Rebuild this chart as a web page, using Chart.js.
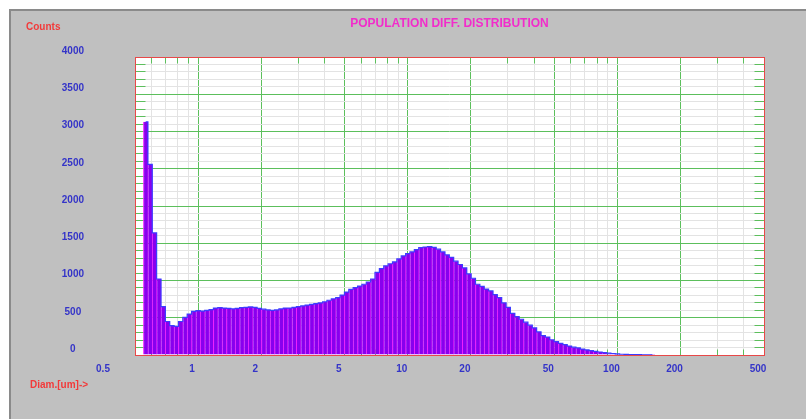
<!DOCTYPE html>
<html>
<head>
<meta charset="utf-8">
<script src="https://cdn.jsdelivr.net/npm/chart.js@4.4.1/dist/chart.umd.min.js"></script>
<style>
  html, body { margin: 0; padding: 0; background: #fff; width: 806px; height: 419px; overflow: hidden; }
  #panel { position: absolute; left: 9px; top: 9px; width: 810px; height: 420px; background: #c0c0c0;
           border-top: 2px solid #8a8a8a; border-left: 2px solid #8a8a8a; }
  #c { position: absolute; left: 0; top: 0; }
</style>
</head>
<body>
<div id="panel"></div>
<canvas id="c" width="806" height="419"></canvas>
<script>
// Particle size histogram: log-spaced channels (48 per decade), counts per channel.
const diameters = [
  0.5623, 0.5900, 0.6190, 0.6494, 0.6813, 0.7148, 0.7499, 0.7867, 0.8254, 0.8660, 0.9085, 0.9532,
  1.000, 1.049, 1.101, 1.155, 1.212, 1.271, 1.334, 1.399, 1.468, 1.540, 1.616, 1.695,
  1.778, 1.866, 1.957, 2.054, 2.154, 2.260, 2.371, 2.488, 2.610, 2.738, 2.873, 3.014,
  3.162, 3.318, 3.481, 3.652, 3.831, 4.019, 4.217, 4.424, 4.642, 4.870, 5.109, 5.360,
  5.623, 5.900, 6.190, 6.494, 6.813, 7.148, 7.499, 7.867, 8.254, 8.660, 9.085, 9.532,
  10.00, 10.49, 11.01, 11.55, 12.12, 12.71, 13.34, 13.99, 14.68, 15.40, 16.16, 16.95,
  17.78, 18.66, 19.57, 20.54, 21.54, 22.60, 23.71, 24.88, 26.10, 27.38, 28.73, 30.14,
  31.62, 33.18, 34.81, 36.52, 38.31, 40.19, 42.17, 44.24, 46.42, 48.70, 51.09, 53.60,
  56.23, 59.00, 61.90, 64.94, 68.13, 71.48, 74.99, 78.67, 82.54, 86.60, 90.85, 95.32,
  100.0, 104.9, 110.1, 115.5, 121.2, 127.1, 133.4, 139.9, 146.8,
];
const counts = [
  3130, 2560, 1640, 1020, 650, 450, 395, 385, 450, 505, 550, 585,
  595, 590, 600, 610, 630, 635, 630, 625, 620, 625, 635, 640,
  645, 640, 625, 615, 605, 600, 605, 620, 630, 630, 640, 650,
  660, 670, 680, 690, 700, 715, 735, 755, 770, 805, 845, 880,
  905, 925, 950, 980, 1020, 1110, 1160, 1195, 1225, 1250, 1290, 1330,
  1360, 1385, 1415, 1440, 1450, 1455, 1445, 1420, 1385, 1345, 1310, 1260,
  1215, 1170, 1090, 1030, 950, 920, 885, 860, 810, 770, 700, 640,
  560, 515, 480, 440, 400, 365, 310, 260, 240, 205, 180, 155,
  140, 120, 105, 95, 80, 68, 58, 48, 40, 32, 25, 20,
  15, 10, 8, 6, 5, 4, 3, 2, 1,
];
const xTickLabels = [0.5, 1, 2, 5, 10, 20, 50, 100, 200, 500];
const xRange = [0.5, 500];
const yRange = [0, 4000];
const yMinorStep = 100;
const yMajorStep = 500;
const titleText = 'POPULATION DIFF. DISTRIBUTION';
const yAxisName = 'Counts';
const xAxisName = 'Diam.[um]->';

const FONT = '"Liberation Sans", Arial, Helvetica, sans-serif';
const GREEN = '#5cbf5c';
const GRAY = '#e3e3e3';
const RED = '#e84848';
const BLUE_TXT = '#3434c8';

// every 1..9 x 10^n inside the axis range -> one grid line each
const xGrid = [];
for (let e = -1; e <= 2; e++) {
  for (let m = 1; m <= 9; m++) {
    const v = +(m * Math.pow(10, e)).toPrecision(6);
    if (v >= xRange[0] - 1e-9 && v <= xRange[1] + 1e-9) xGrid.push(v);
  }
}
const mantissa = v => Math.round(v / Math.pow(10, Math.floor(Math.log10(v) + 1e-9)));
const isMajorX = v => [1, 2, 5].includes(mantissa(v));
// same snapping Chart.js uses for 1px grid lines
const snap = p => Math.round(p - 0.5) + 0.5;

const plotFrame = {
  id: 'plot-frame',
  beforeDraw(chart) {
    const { ctx, chartArea: a } = chart;
    ctx.save();
    ctx.fillStyle = '#ffffff';
    ctx.fillRect(a.left, a.top, a.right - a.left, a.bottom - a.top);
    ctx.restore();
  },
  beforeDatasetsDraw(chart) {
    const { ctx, chartArea: a, scales } = chart;
    const L = snap(a.left), R = snap(a.right), T = snap(a.top), B = snap(a.bottom);
    ctx.save();
    ctx.lineWidth = 1;
    // short green ticks on the frame at minor positions
    ctx.strokeStyle = GREEN;
    ctx.beginPath();
    for (const v of xGrid) {
      if (isMajorX(v)) continue;
      const px = snap(scales.x.getPixelForValue(v));
      ctx.moveTo(px, T); ctx.lineTo(px, T + 6);
      ctx.moveTo(px, B); ctx.lineTo(px, B - 6);
    }
    for (let v = yRange[0] + yMinorStep; v < yRange[1]; v += yMinorStep) {
      if (v % yMajorStep === 0) continue;
      const py = snap(scales.y.getPixelForValue(v));
      ctx.moveTo(L, py); ctx.lineTo(L + 10, py);
      ctx.moveTo(R, py); ctx.lineTo(R - 10, py);
    }
    ctx.stroke();
    ctx.strokeStyle = RED;
    ctx.strokeRect(L, T, R - L, B - T);
    ctx.restore();
  },
  afterDraw(chart) {
    const { ctx, chartArea: a, scales } = chart;
    ctx.save();
    ctx.textBaseline = 'middle';
    ctx.font = 'bold 12px ' + FONT;
    ctx.fillStyle = '#f22ccb';
    ctx.textAlign = 'center';
    ctx.fillText(titleText, (a.left + a.right) / 2, 24);
    // x tick labels: the original sits them a little left of their grid line,
    // and the first one well clear of the frame
    ctx.font = 'bold 10px ' + FONT;
    ctx.fillStyle = BLUE_TXT;
    for (const v of xTickLabels) {
      const px = scales.x.getPixelForValue(v);
      ctx.fillText(String(v), v === xRange[0] ? px - 32 : px - 6, a.bottom + 14);
    }
    ctx.fillStyle = '#f23a3a';
    ctx.textAlign = 'left';
    ctx.fillText(yAxisName, 26, 27);
    ctx.fillText(xAxisName, 30, 385);
    ctx.restore();
  },
};

const points = diameters.map((d, i) => ({ x: d, y: counts[i] }));

new Chart(document.getElementById('c'), {
  type: 'bar',
  data: {
    datasets: [
      {
        type: 'line', data: points, order: 0,
        borderColor: '#3c3cff', borderWidth: 1.2, pointRadius: 0,
        stepped: 'middle', fill: false,
      },
      {
        data: points, order: 1,
        backgroundColor: '#8800ee', borderColor: '#f020ff',
        borderWidth: { left: 1, right: 0, top: 0, bottom: 0 },
        barPercentage: 1.2, categoryPercentage: 1,
      },
    ],
  },
  options: {
    responsive: false, animation: false, events: [],
    layout: { padding: { top: 55, right: 42, bottom: 0, left: 0 } },
    scales: {
      x: {
        type: 'logarithmic', min: xRange[0], max: xRange[1], offset: false,
        border: { display: false },
        grid: { offset: false, drawTicks: false, lineWidth: 1,
                color: c => isMajorX(c.tick.value) ? GREEN : GRAY },
        ticks: { display: false },
        afterBuildTicks: s => { s.ticks = xGrid.map(v => ({ value: v })); },
        afterFit: s => { s.height = 64; },
      },
      y: {
        min: yRange[0], max: yRange[1],
        border: { display: false },
        grid: { drawTicks: false, lineWidth: 1,
                color: c => c.tick.value % yMajorStep === 0 ? GREEN : GRAY },
        ticks: { stepSize: yMinorStep, autoSkip: false, padding: 51, labelOffset: -6,
                 crossAlign: 'center', color: BLUE_TXT,
                 font: { family: FONT, size: 10, weight: 'bold' },
                 callback: v => v % yMajorStep === 0 ? String(v) : '' },
        afterFit: s => { s.width = 135; },
      },
    },
    plugins: { legend: { display: false }, tooltip: { enabled: false }, title: { display: false } },
  },
  plugins: [plotFrame],
});
</script>
</body>
</html>
